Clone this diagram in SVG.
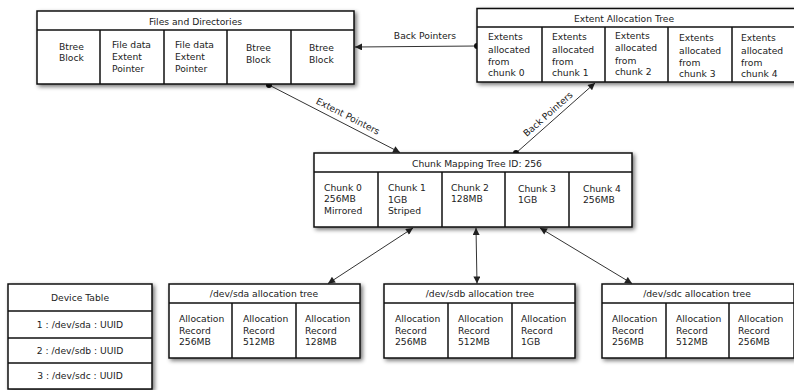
<svg xmlns="http://www.w3.org/2000/svg" width="794" height="390" viewBox="0 0 794 390">
<defs>
<filter id="sh" x="-10%" y="-20%" width="120%" height="150%">
<feGaussianBlur in="SourceAlpha" stdDeviation="2"/>
<feOffset dx="1.5" dy="2" result="b"/>
<feComponentTransfer><feFuncA type="linear" slope="0.55"/></feComponentTransfer>
<feMerge><feMergeNode/><feMergeNode in="SourceGraphic"/></feMerge>
</filter>
<marker id="arr" viewBox="0 0 10 10" refX="10" refY="5" markerWidth="8" markerHeight="7" markerUnits="userSpaceOnUse" orient="auto-start-reverse">
<path d="M0,0 L10,5 L0,10 z" fill="#222"/>
</marker>
<marker id="dot" viewBox="0 0 10 10" refX="5" refY="5" markerWidth="6" markerHeight="6" markerUnits="userSpaceOnUse">
<circle cx="5" cy="5" r="5" fill="#111"/>
</marker>
</defs>
<style>
.box{fill:#fff;stroke:#111;stroke-width:1.5}
.ln{stroke:#111;stroke-width:1.5;fill:none}
text{font-family:"DejaVu Sans","Liberation Sans",sans-serif;font-size:9.2px;fill:#222}
.c{text-anchor:middle}
.con{stroke:#333;stroke-width:1;fill:none}
</style>
<rect width="794" height="390" fill="#fff"/>

<g id="connectors">
<line class="con" x1="477" y1="46" x2="355" y2="47" marker-start="url(#dot)" marker-end="url(#arr)"/>
<text class="c" x="425" y="38.5">Back Pointers</text>
<line class="con" x1="269" y1="85" x2="400" y2="152.5" marker-start="url(#dot)" marker-end="url(#arr)"/>
<text class="c" transform="translate(346.5,119) rotate(27)">Extent Pointers</text>
<line class="con" x1="516" y1="153" x2="595" y2="83" marker-start="url(#dot)" marker-end="url(#arr)"/>
<text class="c" transform="translate(550,116.5) rotate(-41.5)">Back Pointers</text>
<line class="con" x1="413" y1="228" x2="328" y2="283.5" marker-start="url(#arr)" marker-end="url(#arr)"/>
<line class="con" x1="476" y1="228" x2="477" y2="283.5" marker-start="url(#arr)" marker-end="url(#arr)"/>
<line class="con" x1="540" y1="228" x2="632" y2="283.5" marker-start="url(#arr)" marker-end="url(#arr)"/>
</g>

<g id="files">
<rect class="box" x="37" y="11" width="317" height="73" filter="url(#sh)"/>
<path class="ln" d="M37,30H354M100,30V84M164,30V84M227,30V84M291,30V84"/>
<text class="c" x="195.5" y="24.5">Files and Directories</text>
<text x="59" y="50">Btree</text><text x="59" y="61">Block</text>
<text x="112" y="47.5">File data</text><text x="112" y="60">Extent</text><text x="112" y="72">Pointer</text>
<text x="175" y="47.5">File data</text><text x="175" y="60">Extent</text><text x="175" y="72">Pointer</text>
<text x="246" y="51">Btree</text><text x="246" y="62.5">Block</text>
<text x="309" y="51">Btree</text><text x="309" y="62.5">Block</text>
</g>

<g id="extent-tree">
<rect class="box" x="477" y="8.5" width="318" height="73.5" filter="url(#sh)"/>
<path class="ln" d="M477,27H795M542,27V82M605,27V82M668,27V82M732,27V82"/>
<text class="c" x="624" y="21.5">Extent Allocation Tree</text>
<text x="488" y="40">Extents</text><text x="488" y="52.5">allocated</text><text x="488" y="65">from</text><text x="488" y="76">chunk 0</text>
<text x="552" y="40">Extents</text><text x="552" y="52.5">allocated</text><text x="552" y="65">from</text><text x="552" y="76">chunk 1</text>
<text x="615" y="38.5">Extents</text><text x="615" y="51">allocated</text><text x="615" y="63.5">from</text><text x="615" y="74.5">chunk 2</text>
<text x="679" y="41">Extents</text><text x="679" y="53.5">allocated</text><text x="679" y="66">from</text><text x="679" y="77">chunk 3</text>
<text x="741" y="41">Extents</text><text x="741" y="53.5">allocated</text><text x="741" y="65.5">from</text><text x="741" y="76.5">chunk 4</text>
</g>

<g id="chunk-tree">
<rect class="box" x="314" y="153" width="318" height="74" filter="url(#sh)"/>
<path class="ln" d="M314,172H632M378,172V227M442,172V227M505,172V227M569,172V227"/>
<text class="c" x="477" y="166.5">Chunk Mapping Tree ID: 256</text>
<text x="324" y="190.5">Chunk 0</text><text x="324" y="202">256MB</text><text x="324" y="213.5">Mirrored</text>
<text x="388" y="191">Chunk 1</text><text x="388" y="202.5">1GB</text><text x="388" y="214">Striped</text>
<text x="451" y="191">Chunk 2</text><text x="451" y="202">128MB</text>
<text x="518" y="192">Chunk 3</text><text x="518" y="203">1GB</text>
<text x="583" y="192">Chunk 4</text><text x="583" y="203">256MB</text>
</g>

<g id="device-table">
<rect class="box" x="8" y="284" width="144" height="105" filter="url(#sh)"/>
<path class="ln" d="M8,311H152M8,338H152M8,363H152"/>
<text class="c" x="80" y="300.5">Device Table</text>
<text class="c" x="80" y="327.5">1 : /dev/sda : UUID</text>
<text class="c" x="80" y="353.5">2 : /dev/sdb : UUID</text>
<text class="c" x="80" y="379">3 : /dev/sdc : UUID</text>
</g>

<g id="sda-tree">
<rect class="box" x="169" y="284" width="191" height="74" filter="url(#sh)"/>
<path class="ln" d="M169,303H360M232,303V358M296,303V358"/>
<text class="c" x="264" y="296.5">/dev/sda allocation tree</text>
<text x="179" y="322">Allocation</text><text x="179" y="333.5">Record</text><text x="179" y="344.5">256MB</text>
<text x="243" y="322">Allocation</text><text x="243" y="333.5">Record</text><text x="243" y="344.5">512MB</text>
<text x="305" y="322">Allocation</text><text x="305" y="333.5">Record</text><text x="305" y="344.5">128MB</text>
</g>

<g id="sdb-tree">
<rect class="box" x="384" y="284" width="191" height="74" filter="url(#sh)"/>
<path class="ln" d="M384,303H575M448,303V358M512,303V358"/>
<text class="c" x="480" y="296.5">/dev/sdb allocation tree</text>
<text x="395" y="322">Allocation</text><text x="395" y="333.5">Record</text><text x="395" y="344.5">256MB</text>
<text x="458" y="322">Allocation</text><text x="458" y="333.5">Record</text><text x="458" y="344.5">512MB</text>
<text x="521" y="322">Allocation</text><text x="521" y="333.5">Record</text><text x="521" y="344.5">1GB</text>
</g>

<g id="sdc-tree">
<rect class="box" x="602" y="284" width="192" height="74" filter="url(#sh)"/>
<path class="ln" d="M602,303H794M666,303V358M729,303V358"/>
<text class="c" x="697" y="296.5">/dev/sdc allocation tree</text>
<text x="612" y="322">Allocation</text><text x="612" y="333.5">Record</text><text x="612" y="344.5">256MB</text>
<text x="676" y="322">Allocation</text><text x="676" y="333.5">Record</text><text x="676" y="344.5">512MB</text>
<text x="738" y="322">Allocation</text><text x="738" y="333.5">Record</text><text x="738" y="344.5">256MB</text>
</g>
</svg>
